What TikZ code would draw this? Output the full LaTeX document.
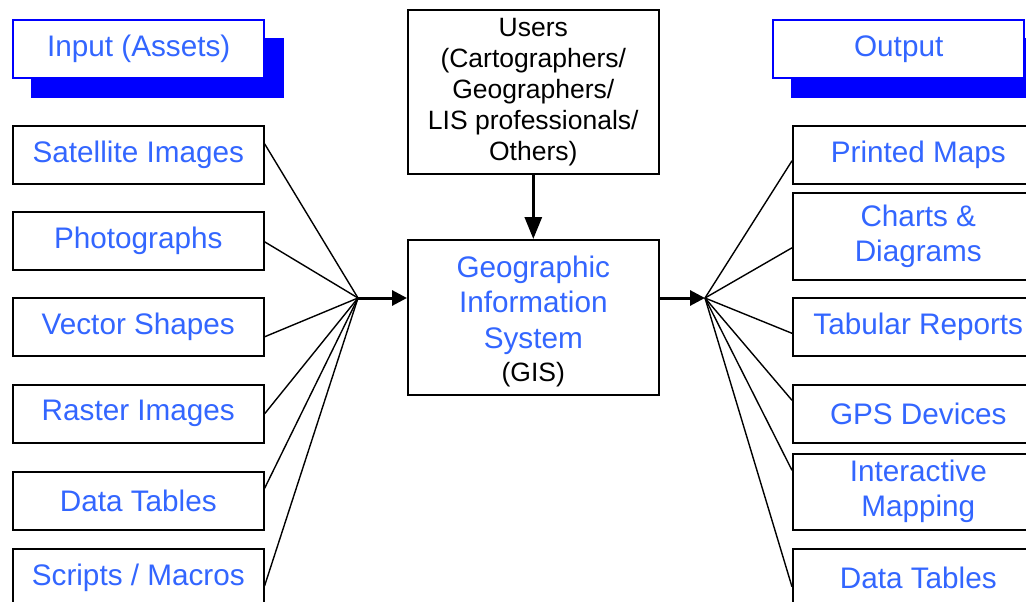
\documentclass[tikz,border=0pt]{standalone}
\usepackage{fontspec}
\setmainfont{Liberation Sans}
\usetikzlibrary{arrows.meta}
\definecolor{txtblue}{RGB}{51,102,255}
\definecolor{hdrblue}{RGB}{0,0,255}

\begin{document}
\begin{tikzpicture}[x=1pt,y=-1pt,
  box/.style={draw=black, line width=1.6pt, fill=white, minimum width=251pt,
    inner sep=0pt, anchor=north west, align=center, text=txtblue,
    font=\fontsize{29.7}{35}\selectfont},
  item/.style={box, minimum height=58pt},
  head/.style={box, draw=hdrblue, line width=2.4pt, minimum height=58pt},
  shade/.style={fill=hdrblue},
  fanline/.style={line width=1.4pt},
  flow/.style={line width=3pt, -{Triangle[length=15pt,width=15pt]}},
  downflow/.style={line width=3pt, -{Triangle[length=22pt,width=17pt]}}]

\useasboundingbox (0,0) rectangle (1026,602);
\clip (0,0) rectangle (1026,602);

% column headers with offset shadows
\node[head, draw=none, fill=none] (hinpos) at (12,19) {};
\fill[shade] ([xshift=19pt,yshift=-19pt]hinpos.north west) rectangle ([xshift=19pt,yshift=-19pt]hinpos.south east);
\node[head] (hin) at (12,19) {Input (Assets)};

\node[head, draw=none, fill=none] (houtpos) at (772,19) {};
\fill[shade] ([xshift=19pt,yshift=-19pt]houtpos.north west) rectangle ([xshift=19pt,yshift=-19pt]houtpos.south east);
\node[head] (hout) at (772,19) {Output};

% inputs
\node[item] (sat) at (12,125) {Satellite Images};
\node[item] (pho) at (12,211) {Photographs};
\node[item] (vec) at (12,297) {Vector Shapes};
\node[item] (ras) at (12,384) {Raster Images};
\node[item] (dti) at (12,471) {Data Tables};
\node[item] (scr) at (12,548) {Scripts / Macros};

% outputs
\node[item] (pri) at (792,125) {Printed Maps};
\node[box, minimum height=87pt] (cha) at (792,192) {Charts \&\\Diagrams};
\node[item] (tab) at (792,297) {Tabular Reports};
\node[item] (gps) at (792,384) {GPS Devices};
\node[box, minimum height=76pt] (int) at (792,453) {Interactive\\Mapping};
\node[item] (dto) at (792,548) {Data Tables};

% users and the central system
\node[box, minimum height=164pt, text=black, font=\fontsize{26.5}{31}\selectfont] (usr) at (407,9)
  {Users\\(Cartographers/\\Geographers/\\LIS professionals/\\Others)};
\node[box, minimum height=155pt, font=\fontsize{29.7}{35.5}\selectfont] (gis) at (407,239)
  {\rule{0pt}{30pt}Geographic\\Information\\System\\[-2pt]{\color{black}\fontsize{26.5}{31}\selectfont (GIS)}};

% fan-in and fan-out points
\coordinate (fanL) at (358,298);
\coordinate (fanR) at (705,298);

\draw[fanline] ([yshift=11pt]sat.east) -- (fanL);
\draw[fanline] ([yshift=-1pt]pho.east) -- (fanL);
\draw[fanline] ([yshift=-10pt]vec.east) -- (fanL);
\draw[fanline] (ras.east) -- (fanL);
\draw[fanline] ([yshift=12.5pt]dti.east) -- (fanL);
\draw[fanline] ([yshift=-8pt]scr.east) -- (fanL);

\draw[fanline] (fanR) -- ([yshift=-6pt]pri.west);
\draw[fanline] (fanR) -- ([yshift=-11.5pt]cha.west);
\draw[fanline] (fanR) -- ([yshift=-6.5pt]tab.west);
\draw[fanline] (fanR) -- ([yshift=13.5pt]gps.west);
\draw[fanline] (fanR) -- ([yshift=21.5pt]int.west);
\draw[fanline] (fanR) -- ([yshift=-9pt]dto.west);

\draw[flow] (fanL) -- (gis.west |- fanL);
\draw[flow] (gis.east |- fanR) -- (fanR);
\draw[downflow] (usr.south) -- (gis.north);
\end{tikzpicture}
\end{document}
